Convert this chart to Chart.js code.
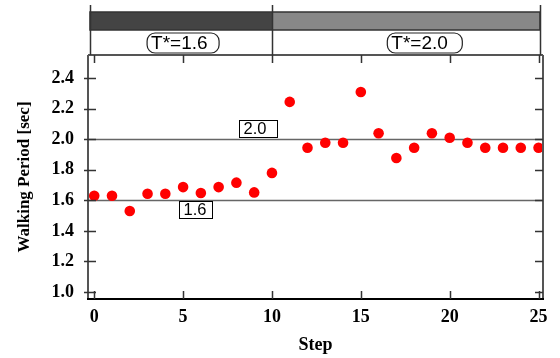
<!DOCTYPE html>
<html>
<head>
<meta charset="utf-8">
<script src="https://cdn.jsdelivr.net/npm/chart.js@4/dist/chart.umd.min.js"></script>
<style>
  body { margin: 0; background: #fff; }
  #wrap { width: 560px; height: 358px; }
</style>
</head>
<body>
<div id="wrap"><canvas id="walkChart"></canvas></div>
<script>
// ========== Data ==========
const steps = [0, 1, 2, 3, 4, 5, 6, 7, 8, 9, 10, 11, 12, 13, 14, 15, 16, 17, 18, 19, 20, 21, 22, 23, 24, 25];
const periods = [1.63, 1.63, 1.53, 1.643, 1.643, 1.687, 1.648, 1.687, 1.716, 1.652, 1.78, 2.245, 1.945, 1.977, 1.977, 2.31, 2.04, 1.877, 1.945, 2.04, 2.01, 1.977, 1.945, 1.945, 1.945, 1.945];
const xTicks = [0, 5, 10, 15, 20, 25];
const yTicks = [1.0, 1.2, 1.4, 1.6, 1.8, 2.0, 2.2, 2.4];
const phaseSwitch = 10;
const phaseLabels = ['T*=1.6', 'T*=2.0'];
const targetPeriods = [1.6, 2.0];

const serif = '"Liberation Serif", "Times New Roman", serif';
const sans = '"Liberation Sans", Arial, sans-serif';

function roundRect(ctx, x, y, w, h, r) {
    ctx.beginPath();
    ctx.moveTo(x + r, y);
    ctx.arcTo(x + w, y, x + w, y + h, r);
    ctx.arcTo(x + w, y + h, x, y + h, r);
    ctx.arcTo(x, y + h, x, y, r);
    ctx.arcTo(x, y, x + w, y, r);
    ctx.closePath();
}

// ========== Target lines (under the points) ==========
const targetLines = {
    id: 'targetLines',
    beforeDatasetsDraw(chart) {
        const { ctx, chartArea: a, scales: { x, y } } = chart;
        ctx.save();
        ctx.strokeStyle = '#666';
        ctx.lineWidth = 1.5;
        targetPeriods.forEach(v => {
            const py = Math.round(y.getPixelForValue(v)) + 0.5;
            ctx.beginPath();
            ctx.moveTo(a.left, py);
            ctx.lineTo(a.right, py);
            ctx.stroke();
        });
        // boxed labels: 2.0 sits above its line, 1.6 below
        ctx.font = '16.5px ' + sans;
        ctx.textBaseline = 'middle';
        ctx.textAlign = 'left';
        const boxes = [
            { v: targetPeriods[1], at: 8.15, w: 38, above: true },
            { v: targetPeriods[0], at: 4.75, w: 33, above: false }
        ];
        boxes.forEach(b => {
            const bx = Math.round(x.getPixelForValue(b.at)) + 0.5;
            const ly = Math.round(y.getPixelForValue(b.v));
            const by = b.above ? ly - 18.5 : ly + 1.5;
            ctx.fillStyle = '#fff';
            ctx.fillRect(bx, by, b.w, 17);
            ctx.strokeStyle = '#000';
            ctx.lineWidth = 1;
            ctx.strokeRect(bx, by, b.w, 17);
            ctx.fillStyle = '#000';
            ctx.fillText(b.v.toFixed(1), bx + 4, by + 9);
        });
        ctx.restore();
    }
};

// ========== Frame, inward ticks and phase header ==========
const frameAndHeader = {
    id: 'frameAndHeader',
    afterDraw(chart) {
        const { ctx, chartArea: a, scales: { x, y } } = chart;
        ctx.save();
        ctx.lineWidth = 2;
        ctx.strokeStyle = '#555';
        ctx.beginPath();
        ctx.moveTo(a.left, a.top); ctx.lineTo(a.left, a.bottom);
        ctx.moveTo(a.right, a.top); ctx.lineTo(a.right, a.bottom);
        ctx.moveTo(a.left, a.top); ctx.lineTo(a.right, a.top);
        ctx.stroke();
        ctx.strokeStyle = '#000';
        ctx.beginPath();
        ctx.moveTo(a.left - 1, a.bottom); ctx.lineTo(a.right + 1, a.bottom);
        ctx.stroke();

        ctx.lineWidth = 1.5;
        ctx.strokeStyle = '#333';
        ctx.beginPath();
        x.ticks.forEach(t => {
            const px = Math.round(x.getPixelForValue(t.value)) + 0.5;
            ctx.moveTo(px, a.bottom); ctx.lineTo(px, a.bottom - 8);
            ctx.moveTo(px, a.top); ctx.lineTo(px, a.top + 8);
        });
        y.ticks.forEach(t => {
            const py = Math.round(y.getPixelForValue(t.value)) + 0.5;
            ctx.moveTo(a.left - 4, py); ctx.lineTo(a.left + 8, py);
            ctx.moveTo(a.right, py); ctx.lineTo(a.right - 8, py);
        });
        ctx.stroke();

        // header bars, a little inset from the plot frame
        const hl = a.left + 2, hr = a.right - 3;
        const mid = Math.round(x.getPixelForValue(phaseSwitch));
        const barTop = a.top - 43, barH = 18;
        ctx.fillStyle = '#444';
        ctx.fillRect(hl, barTop, mid - hl, barH);
        ctx.fillStyle = '#888';
        ctx.fillRect(mid, barTop, hr - mid, barH);
        ctx.strokeStyle = '#333';
        ctx.lineWidth = 1.5;
        ctx.strokeRect(hl, barTop, hr - hl, barH);

        ctx.beginPath();
        [hl, mid, hr].forEach(px => {
            ctx.moveTo(px + 0.5, a.top - 50);
            ctx.lineTo(px + 0.5, a.top);
        });
        ctx.stroke();

        // rounded phase labels
        ctx.font = '19px ' + sans;
        ctx.textAlign = 'left';
        ctx.textBaseline = 'middle';
        [{ c: 5, w: 72 }, { c: 18.6, w: 75 }].forEach((p, i) => {
            const cx = x.getPixelForValue(p.c);
            const left = cx - p.w / 2;
            roundRect(ctx, left, a.top - 22, p.w, 20, 8);
            ctx.fillStyle = '#fff';
            ctx.fill();
            ctx.strokeStyle = '#222';
            ctx.lineWidth = 1.2;
            ctx.stroke();
            ctx.fillStyle = '#000';
            ctx.fillText(phaseLabels[i], left + 4, a.top - 11);
        });
        ctx.restore();
    }
};

// ========== Chart ==========
function generateChart() {
    const ctx = document.getElementById('walkChart').getContext('2d');
    new Chart(ctx, {
        type: 'scatter',
        data: {
            datasets: [{
                data: steps.map((s, i) => ({ x: s, y: periods[i] })),
                backgroundColor: '#ff0000',
                borderWidth: 0,
                pointRadius: 5.3,
                pointHoverRadius: 5.3
            }]
        },
        options: {
            responsive: true,
            maintainAspectRatio: false,
            animation: false,
            layout: { padding: { top: 55, right: 17, left: 0, bottom: 0 } },
            plugins: { legend: { display: false }, tooltip: { enabled: false } },
            scales: {
                x: {
                    type: 'linear',
                    min: -0.35,
                    max: 25.25,
                    afterBuildTicks: s => { s.ticks = xTicks.map(v => ({ value: v })); },
                    afterFit: s => { s.height = 59; },
                    grid: { display: false },
                    border: { display: false },
                    ticks: { color: '#000', padding: 0, font: { family: serif, size: 18, weight: 'bold' } },
                    title: {
                        display: true, text: 'Step', color: '#000',
                        padding: { top: 4, bottom: 2 },
                        font: { family: serif, size: 18, weight: 'bold' }
                    }
                },
                y: {
                    min: 0.954,
                    max: 2.552,
                    afterBuildTicks: s => { s.ticks = yTicks.map(v => ({ value: v })); },
                    afterFit: s => { s.width = 88; },
                    grid: { display: false },
                    border: { display: false },
                    ticks: {
                        color: '#000', padding: 6,
                        font: { family: serif, size: 18, weight: 'bold' },
                        callback: v => v.toFixed(1)
                    },
                    title: {
                        display: true, text: 'Walking Period [sec]', color: '#000',
                        padding: { top: 14, bottom: 6 },
                        font: { family: serif, size: 17, weight: 'bold' }
                    }
                }
            }
        },
        plugins: [targetLines, frameAndHeader]
    });
}

document.addEventListener('DOMContentLoaded', generateChart);
</script>
</body>
</html>
